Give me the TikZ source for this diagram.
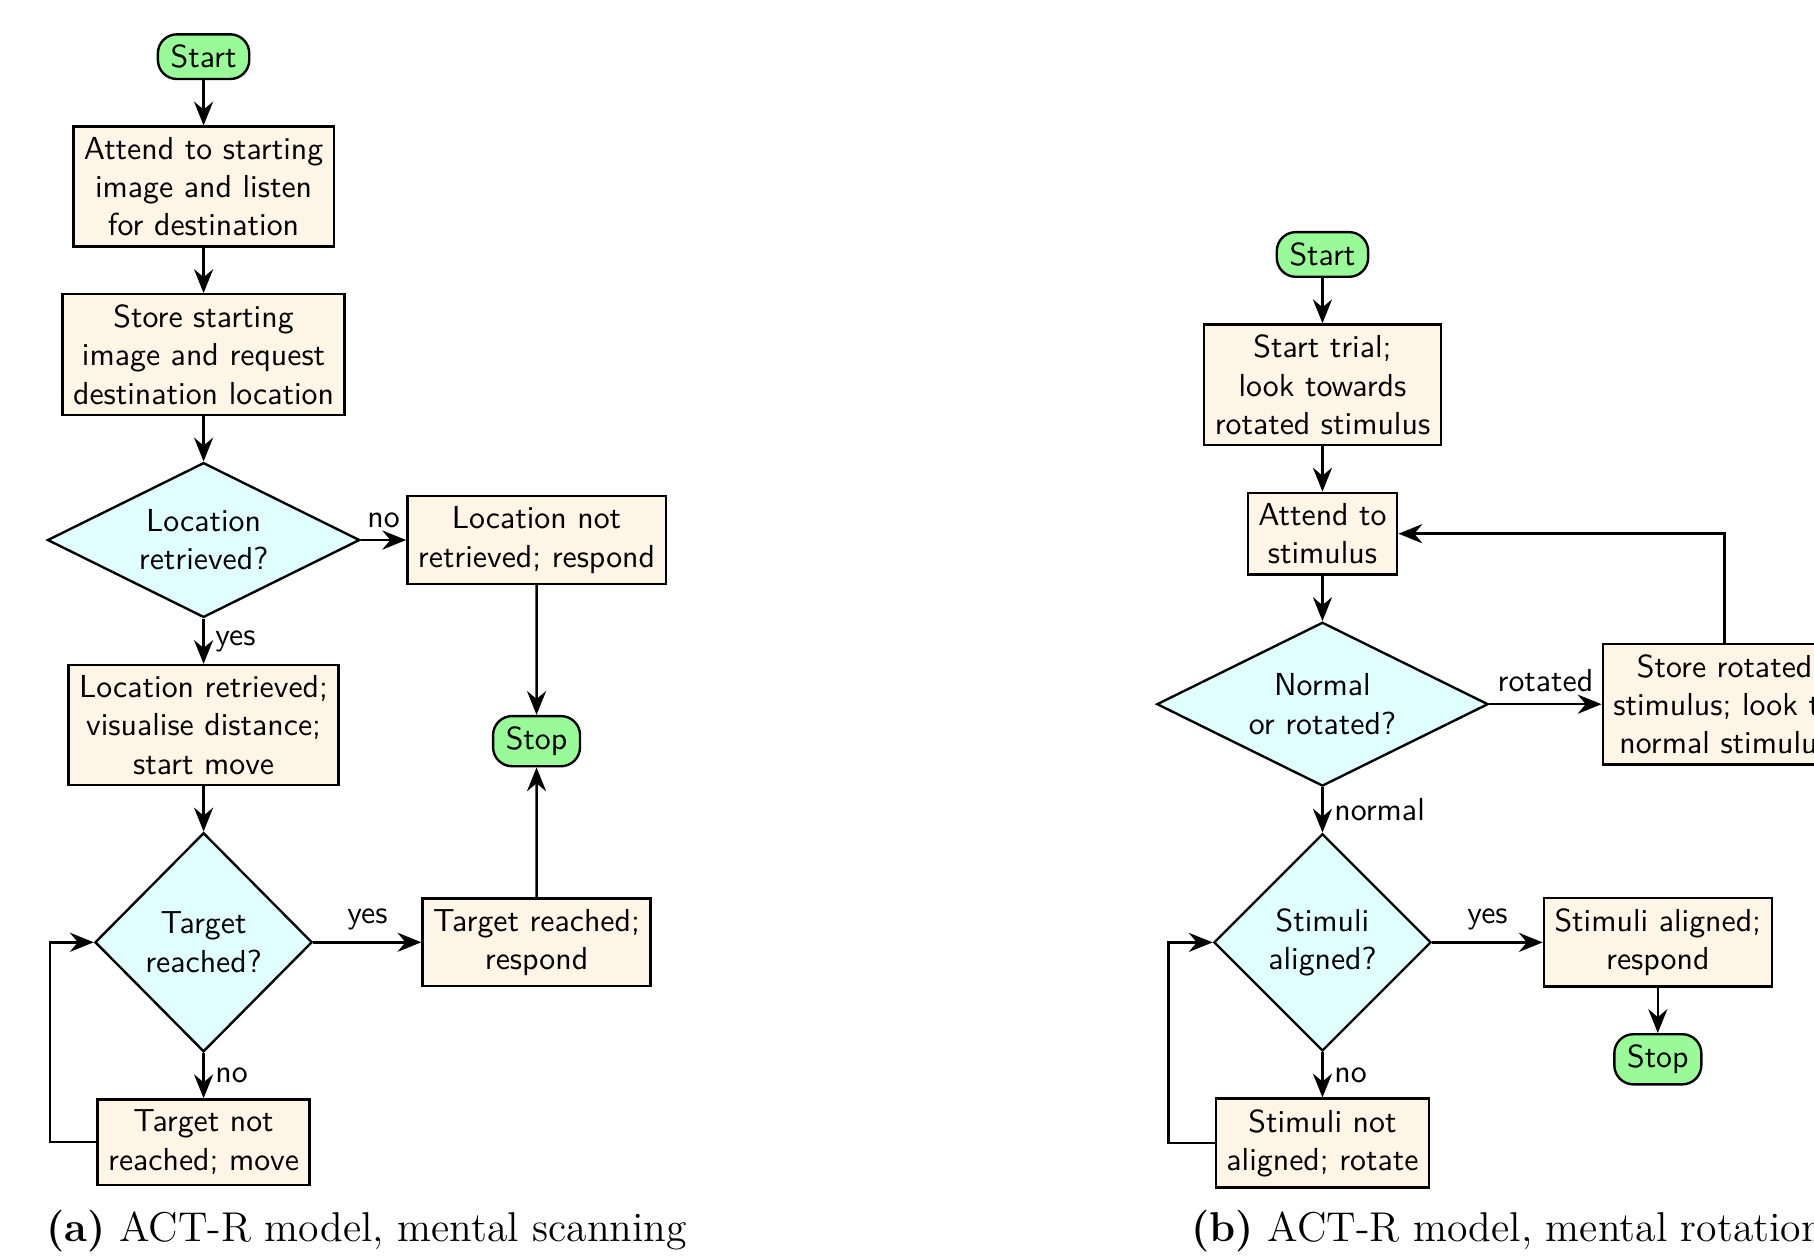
\documentclass[tikz,border=0pt]{standalone}
\usepackage{tikz}
\usetikzlibrary{arrows.meta, positioning, shapes.geometric, calc}
\definecolor{StartGreen}{RGB}{152, 251, 152}
\definecolor{BoxCream}{RGB}{253, 245, 230}
\definecolor{AskCyan}{RGB}{224, 255, 255}

\begin{document}
\begin{tikzpicture}[font=\sffamily,
        node distance=0.50cm,
        terminal/.style={rectangle, draw, line width=0.75pt, fill=StartGreen, rounded corners=6pt, inner xsep=4pt},
        box/.style={rectangle, draw, line width=0.75pt, fill=BoxCream, align=center},
        decision/.style={diamond, draw, line width=0.75pt, fill=AskCyan, align=center, inner sep=0pt},
        arrow/.style={-{Stealth[length=7.5pt, width=6pt, inset=2.5pt]}, line width=0.8pt},
        subcap/.style={font=\rmfamily\fontsize{13.1}{15}\selectfont, anchor=base west}
    ]
        \useasboundingbox (-2.249,0.626) rectangle (17.79,-13.264);
        \clip (-2.249,0.626) rectangle (17.79,-13.264);
        % (a) mental scanning
        \node[terminal] (startA) at (0,0) {Start};
        \node[box, below=of startA] (attendA) {Attend to starting\\image and listen\\for destination};
        \node[box, below=of attendA] (storeA) {Store starting\\image and request\\destination location};
        \node[decision, aspect=2, minimum width=3.45cm, minimum height=1.71cm, below=of storeA] (retrieved) {Location\\retrieved?};
        \node[box, right=0.50cm of retrieved] (notret) {Location not\\retrieved; respond};
        \node[box, below=of retrieved] (visual) {Location retrieved;\\visualise distance;\\start move};
        \node[decision, minimum width=2.4cm, minimum height=2.42cm, below=of visual] (reached) {Target\\reached?};
        \node[box] (yesreach) at (notret |- reached) {Target reached;\\respond};
        \node[terminal] (stopA) at ($(notret.south)!0.5!(yesreach.north)$) {Stop};
        \node[box, below=of reached] (noreach) {Target not\\reached; move};
        \draw[arrow] (startA) -- (attendA);
        \draw[arrow] (attendA) -- (storeA);
        \draw[arrow] (storeA) -- (retrieved);
        \draw[arrow] (retrieved) -- node[above] {no} (notret);
        \draw[arrow] (retrieved) -- node[right] {yes} (visual);
        \draw[arrow] (notret) -- (stopA);
        \draw[arrow] (visual) -- (reached);
        \draw[arrow] (reached) -- node[above] {yes} (yesreach);
        \draw[arrow] (yesreach) -- (stopA);
        \draw[arrow] (reached) -- node[right] {no} (noreach);
        \draw[arrow] (noreach.west) -- ++(-0.51,0) |- (reached.west);
        \node[subcap] (capA) at (-1.86,-13.09) {\textbf{(a)} ACT-R model, mental scanning};
        % (b) mental rotation
        \node[terminal] (startB) at (12.36,-2.185) {Start};
        \node[box, below=of startB] (trialB) {Start trial;\\look towards\\rotated stimulus};
        \node[box, below=of trialB] (attendB) {Attend to\\stimulus};
        \node[decision, aspect=2, minimum width=3.66cm, minimum height=1.81cm, below=of attendB] (orient) {Normal\\or rotated?};
        \node[box, right=1.24cm of orient] (storeB) {Store rotated\\stimulus; look to\\normal stimulus};
        \node[decision, minimum width=2.4cm, minimum height=2.4cm, below=of orient] (aligned) {Stimuli\\aligned?};
        \node[box, right=1.22cm of aligned] (yesalign) {Stimuli aligned;\\respond};
        \node[terminal, below=of yesalign] (stopB) {Stop};
        \node[box, below=of aligned] (noalign) {Stimuli not\\aligned; rotate};
        \draw[arrow] (startB) -- (trialB);
        \draw[arrow] (trialB) -- (attendB);
        \draw[arrow] (attendB) -- (orient);
        \draw[arrow] (orient) -- node[above] {rotated} (storeB);
        \draw[arrow] (storeB.north) |- (attendB.east);
        \draw[arrow] (orient) -- node[right] {normal} (aligned);
        \draw[arrow] (aligned) -- node[above] {yes} (yesalign);
        \draw[arrow] (yesalign) -- (stopB);
        \draw[arrow] (aligned) -- node[right] {no} (noalign);
        \draw[arrow] (noalign.west) -- ++(-0.51,0) |- (aligned.west);
        \node[subcap] (capB) at (10.79,-13.09) {\textbf{(b)} ACT-R model, mental rotation};
    \end{tikzpicture}
\end{document}
